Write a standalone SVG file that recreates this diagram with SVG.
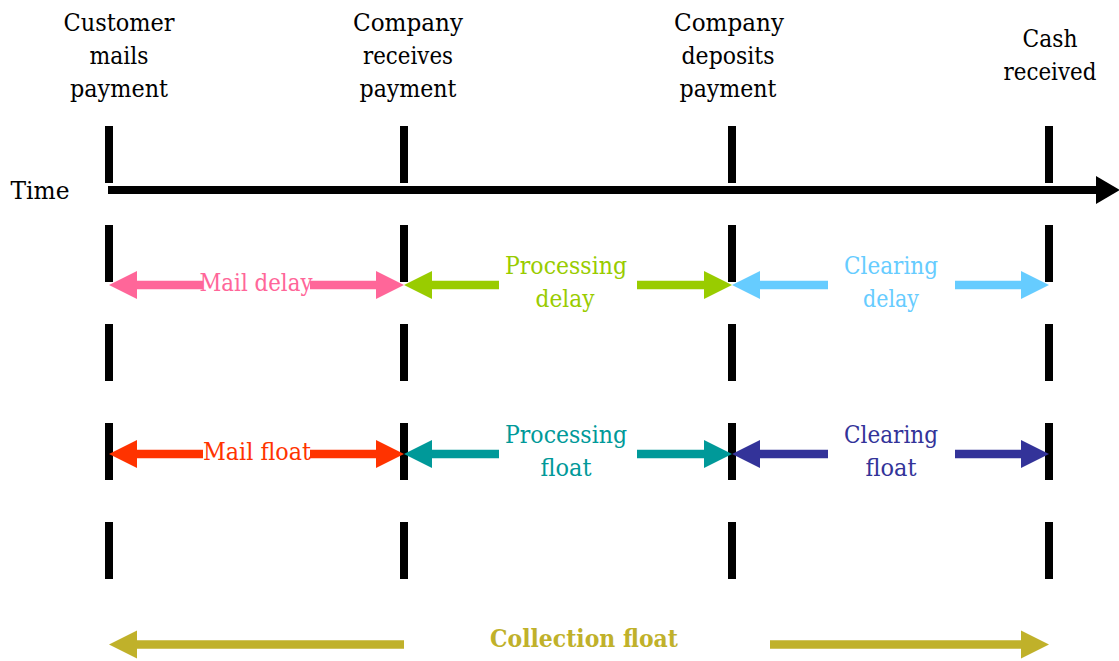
<svg xmlns="http://www.w3.org/2000/svg" width="1119" height="661" viewBox="0 0 1119 661">
<style>
text { font-family: "DejaVu Serif", serif; font-size: 25px; text-anchor: middle; }
.ev { fill: #000; }
.tick { stroke: #000; stroke-width: 8; stroke-dasharray: 57 42; fill: none; }
.sh { stroke-width: 8.5; fill: none; }
.b { font-weight: bold; }
</style>
<defs>
<marker id="hK" markerUnits="userSpaceOnUse" markerWidth="28" markerHeight="30" refX="0" refY="15" orient="auto" overflow="visible"><path d="M0,1 L24,15 L0,29 z" fill="#000"/></marker>
<marker id="hPink" markerUnits="userSpaceOnUse" markerWidth="28" markerHeight="28" refX="0" refY="14" orient="auto" overflow="visible"><path d="M0,0 L28,14 L0,28 z" fill="#FF6699"/></marker>
<marker id="hGreen" markerUnits="userSpaceOnUse" markerWidth="28" markerHeight="28" refX="0" refY="14" orient="auto" overflow="visible"><path d="M0,0 L28,14 L0,28 z" fill="#99CC00"/></marker>
<marker id="hSky" markerUnits="userSpaceOnUse" markerWidth="28" markerHeight="28" refX="0" refY="14" orient="auto" overflow="visible"><path d="M0,0 L28,14 L0,28 z" fill="#66CCFF"/></marker>
<marker id="hRed" markerUnits="userSpaceOnUse" markerWidth="28" markerHeight="28" refX="0" refY="14" orient="auto" overflow="visible"><path d="M0,0 L28,14 L0,28 z" fill="#FF3300"/></marker>
<marker id="hTeal" markerUnits="userSpaceOnUse" markerWidth="28" markerHeight="28" refX="0" refY="14" orient="auto" overflow="visible"><path d="M0,0 L28,14 L0,28 z" fill="#009999"/></marker>
<marker id="hNavy" markerUnits="userSpaceOnUse" markerWidth="28" markerHeight="28" refX="0" refY="14" orient="auto" overflow="visible"><path d="M0,0 L28,14 L0,28 z" fill="#333399"/></marker>
<marker id="hOlive" markerUnits="userSpaceOnUse" markerWidth="28" markerHeight="28" refX="0" refY="14" orient="auto" overflow="visible"><path d="M0,0 L28,14 L0,28 z" fill="#C0B12A"/></marker>
</defs>
<rect width="1119" height="661" fill="#fff"/>

<g id="time-label"><text x="40" y="199" class="ev" textLength="59" lengthAdjust="spacingAndGlyphs">Time</text></g>

<g id="event-customer-mails">
<text x="119" y="31" class="ev" textLength="111" lengthAdjust="spacingAndGlyphs">Customer</text>
<text x="119" y="64" class="ev" textLength="59" lengthAdjust="spacingAndGlyphs">mails</text>
<text x="119" y="97" class="ev" textLength="98" lengthAdjust="spacingAndGlyphs">payment</text>
</g>
<g id="event-company-receives">
<text x="408" y="31" class="ev" textLength="110" lengthAdjust="spacingAndGlyphs">Company</text>
<text x="408" y="64" class="ev" textLength="90" lengthAdjust="spacingAndGlyphs">receives</text>
<text x="408" y="97" class="ev" textLength="97" lengthAdjust="spacingAndGlyphs">payment</text>
</g>
<g id="event-company-deposits">
<text x="729" y="31" class="ev" textLength="110" lengthAdjust="spacingAndGlyphs">Company</text>
<text x="728" y="64" class="ev" textLength="93" lengthAdjust="spacingAndGlyphs">deposits</text>
<text x="728" y="97" class="ev" textLength="97" lengthAdjust="spacingAndGlyphs">payment</text>
</g>
<g id="event-cash-received">
<text x="1050" y="47" class="ev" textLength="55" lengthAdjust="spacingAndGlyphs">Cash</text>
<text x="1050" y="80" class="ev" textLength="93" lengthAdjust="spacingAndGlyphs">received</text>
</g>

<g id="connectors">
<g id="ticks">
<line class="tick" x1="109" y1="126" x2="109" y2="579"/>
<line class="tick" x1="404" y1="126" x2="404" y2="579"/>
<line class="tick" x1="732" y1="126" x2="732" y2="579"/>
<line class="tick" x1="1049" y1="126" x2="1049" y2="579"/>
</g>
<line id="time-axis" x1="108" y1="190" x2="1096" y2="190" stroke="#000" stroke-width="8" marker-end="url(#hK)"/>

<g id="mail-delay">
<line class="sh" stroke="#FF6699" x1="203" y1="285" x2="137" y2="285" marker-end="url(#hPink)"/>
<line class="sh" stroke="#FF6699" x1="310" y1="285" x2="376" y2="285" marker-end="url(#hPink)"/>
</g>
<g id="processing-delay">
<line class="sh" stroke="#99CC00" x1="499" y1="285" x2="432" y2="285" marker-end="url(#hGreen)"/>
<line class="sh" stroke="#99CC00" x1="637" y1="285" x2="704" y2="285" marker-end="url(#hGreen)"/>
</g>
<g id="clearing-delay">
<line class="sh" stroke="#66CCFF" x1="828" y1="285" x2="760" y2="285" marker-end="url(#hSky)"/>
<line class="sh" stroke="#66CCFF" x1="955" y1="285" x2="1021" y2="285" marker-end="url(#hSky)"/>
</g>
<g id="mail-float">
<line class="sh" stroke="#FF3300" x1="203" y1="454" x2="137" y2="454" marker-end="url(#hRed)"/>
<line class="sh" stroke="#FF3300" x1="310" y1="454" x2="376" y2="454" marker-end="url(#hRed)"/>
</g>
<g id="processing-float">
<line class="sh" stroke="#009999" x1="499" y1="454" x2="432" y2="454" marker-end="url(#hTeal)"/>
<line class="sh" stroke="#009999" x1="637" y1="454" x2="704" y2="454" marker-end="url(#hTeal)"/>
</g>
<g id="clearing-float">
<line class="sh" stroke="#333399" x1="828" y1="454" x2="760" y2="454" marker-end="url(#hNavy)"/>
<line class="sh" stroke="#333399" x1="955" y1="454" x2="1021" y2="454" marker-end="url(#hNavy)"/>
</g>
<g id="collection-float">
<line class="sh" stroke="#C0B12A" x1="404" y1="644.5" x2="137" y2="644.5" marker-end="url(#hOlive)"/>
<line class="sh" stroke="#C0B12A" x1="770" y1="644.5" x2="1021" y2="644.5" marker-end="url(#hOlive)"/>
</g>
</g>

<g id="labels">
<text x="256" y="291" fill="#FF6699" textLength="113" lengthAdjust="spacingAndGlyphs">Mail delay</text>
<text x="566" y="274" fill="#99CC00" textLength="122" lengthAdjust="spacingAndGlyphs">Processing</text>
<text x="565" y="307" fill="#99CC00" textLength="59" lengthAdjust="spacingAndGlyphs">delay</text>
<text x="891" y="274" fill="#66CCFF" textLength="94" lengthAdjust="spacingAndGlyphs">Clearing</text>
<text x="891" y="307" fill="#66CCFF" textLength="56" lengthAdjust="spacingAndGlyphs">delay</text>
<text x="257" y="460" fill="#FF3300" textLength="108" lengthAdjust="spacingAndGlyphs">Mail float</text>
<text x="566" y="443" fill="#009999" textLength="122" lengthAdjust="spacingAndGlyphs">Processing</text>
<text x="566" y="476" fill="#009999" textLength="51" lengthAdjust="spacingAndGlyphs">float</text>
<text x="891" y="443" fill="#333399" textLength="94" lengthAdjust="spacingAndGlyphs">Clearing</text>
<text x="891" y="476" fill="#333399" textLength="51" lengthAdjust="spacingAndGlyphs">float</text>
<text x="584" y="647" fill="#C0B12A" class="b" textLength="188" lengthAdjust="spacingAndGlyphs">Collection float</text>
</g>
</svg>
